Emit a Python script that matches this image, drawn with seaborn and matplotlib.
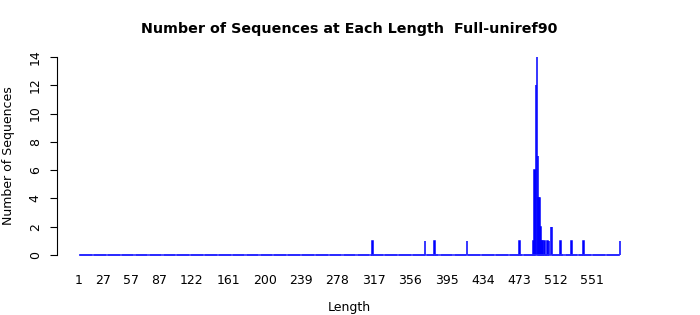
import numpy as np
import pandas as pd
import matplotlib
matplotlib.use("Agg")
import matplotlib.pyplot as plt
import seaborn as sns

# ---- data ----
max_length = 581
nonzero_lengths = [316, 372, 382, 417, 473,
                   488, 489, 490, 491, 492, 493, 494, 495, 496, 497, 498,
                   500, 503, 505, 507, 508, 517, 529, 542, 581]
nonzero_counts = [1, 1, 1, 1, 1,
                  1, 6, 6, 12, 14, 7, 4, 4, 2, 1, 1,
                  1, 1, 1, 2, 2, 1, 1, 1, 1]
tick_labels = [1, 27, 57, 87, 122, 161, 200, 239, 278, 317, 356, 395, 434, 473, 512, 551]
y_ticks = [0, 2, 4, 6, 8, 10, 12, 14]

lengths = np.arange(1, max_length + 1)
counts = np.zeros(max_length, dtype=int)
for L, c in zip(nonzero_lengths, nonzero_counts):
    counts[L - 1] = c
df = pd.DataFrame({"Length": lengths, "Count": counts})

sns.set_theme(style="white")
plt.rcParams['font.family'] = ['DejaVu Sans']
for k in ["text.color", "axes.labelcolor", "xtick.color", "ytick.color"]:
    plt.rcParams[k] = "black"

fig = plt.figure(figsize=(7.0, 3.15), dpi=100)
ax = fig.add_axes([57 / 700, 1 - 263 / 315, 585 / 700, 214 / 315])

bar_w = 1 / 1.2
sns.barplot(data=df, x="Length", y="Count", native_scale=True, width=bar_w,
            color="#0000ff", edgecolor="#0000ff", linewidth=1.1,
            errorbar=None, saturation=1, ax=ax)
# baseline formed by the zero-height bars' borders
ax.hlines(0, lengths[0] - bar_w / 2, lengths[-1] + bar_w / 2,
          color="#2a2aff", linewidth=1.2, zorder=1)

ax.set_xlim(-22.6, 604.6)
ax.set_ylim(-0.56, 14.56)

for s in ["top", "right", "bottom"]:
    ax.spines[s].set_visible(False)
ax.spines["left"].set_bounds(0, 14)
ax.spines["left"].set_color("black")
ax.spines["left"].set_linewidth(0.8)

ax.set_xticks(tick_labels)
ax.set_xticklabels([str(t) for t in tick_labels], fontsize=9)
ax.tick_params(axis="x", length=0, pad=8)

ax.set_yticks(y_ticks)
ax.set_yticklabels([str(t) for t in y_ticks], fontsize=9, rotation=90, va="center")
ax.tick_params(axis="y", length=5, width=0.8, color="black", pad=6, left=True)

ax.set_xlabel("Length", fontsize=9, labelpad=10)
ax.set_ylabel("Number of Sequences", fontsize=9, labelpad=10)
ax.set_title("Number of Sequences at Each Length  Full-uniref90",
             fontsize=10.25, fontweight="bold", pad=11.5)
ax.grid(False)

fig.savefig("out.png", dpi=100)
